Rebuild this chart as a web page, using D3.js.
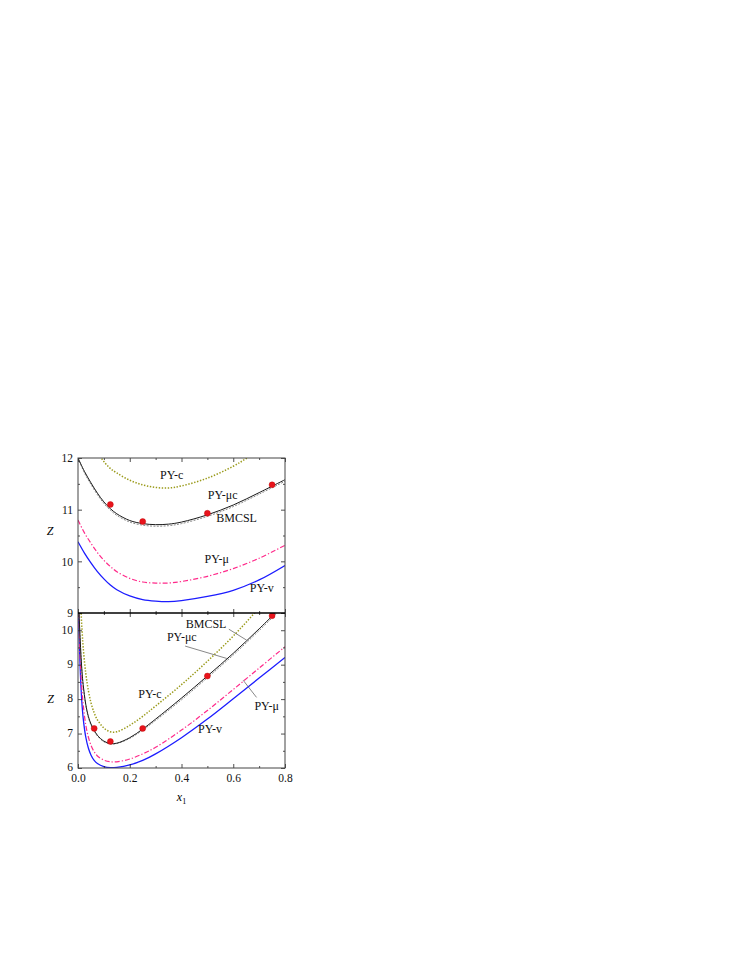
<!DOCTYPE html>
<html>
<head>
<meta charset="utf-8">
<script src="https://cdn.jsdelivr.net/npm/d3@7"></script>
<style>
  html, body { margin: 0; padding: 0; background: #fff; }
  svg { display: block; }
  text { font-family: "Liberation Serif", "Times New Roman", serif; }
</style>
</head>
<body>
<svg id="chart" width="747" height="967"></svg>
<script>
// ---------------- DATA ----------------
// Top panel series: [x1, Z]
const topBMCSL = [[0,12.0],[0.025,11.74],[0.05,11.52],[0.075,11.32],[0.1,11.15],[0.125,11.02],[0.15,10.92],[0.2,10.79],[0.25,10.73],[0.3,10.71],[0.35,10.72],[0.4,10.76],[0.5,10.9],[0.6,11.09],[0.7,11.33],[0.8,11.58]];
const topPYmuc = [[0,12.0],[0.025,11.71],[0.05,11.49],[0.075,11.29],[0.1,11.12],[0.125,10.99],[0.15,10.89],[0.2,10.76],[0.25,10.70],[0.3,10.68],[0.35,10.69],[0.4,10.73],[0.5,10.87],[0.6,11.06],[0.7,11.30],[0.8,11.55]];
const topPYmu  = [[0,10.8],[0.025,10.55],[0.05,10.35],[0.075,10.17],[0.1,10.02],[0.125,9.9],[0.15,9.8],[0.2,9.67],[0.25,9.6],[0.3,9.58],[0.35,9.58],[0.4,9.61],[0.5,9.71],[0.6,9.86],[0.7,10.06],[0.8,10.31]];
const topPYv   = [[0,10.38],[0.025,10.16],[0.05,9.97],[0.075,9.8],[0.1,9.66],[0.125,9.54],[0.15,9.45],[0.2,9.33],[0.25,9.26],[0.3,9.23],[0.35,9.22],[0.4,9.24],[0.5,9.32],[0.6,9.44],[0.7,9.64],[0.8,9.92]];
const topPYc   = [[0.06,12.3],[0.09,12.0],[0.12,11.82],[0.15,11.71],[0.2,11.57],[0.25,11.48],[0.3,11.43],[0.35,11.42],[0.4,11.46],[0.5,11.61],[0.6,11.84],[0.65,11.99],[0.7,12.15]];
const topSim   = [[0.125,11.1],[0.25,10.77],[0.5,10.93],[0.75,11.48]];

// Bottom panel series: [x1, Z]
const botPYv   = [[0.001,11.3],[0.002,10.5],[0.006,9.4],[0.01,8.6],[0.015,7.9],[0.02,7.45],[0.03,6.9],[0.04,6.58],[0.05,6.38],[0.0625,6.22],[0.075,6.13],[0.1,6.04],[0.125,6.01],[0.15,6.02],[0.2,6.09],[0.25,6.22],[0.3,6.41],[0.4,6.88],[0.5,7.42],[0.6,8.01],[0.7,8.61],[0.8,9.21]];
const botPYmu  = [[0.001,11.4],[0.003,10.5],[0.006,9.7],[0.01,8.95],[0.015,8.3],[0.02,7.85],[0.03,7.25],[0.04,6.9],[0.05,6.66],[0.0625,6.47],[0.075,6.35],[0.1,6.23],[0.125,6.18],[0.15,6.18],[0.2,6.26],[0.25,6.41],[0.3,6.6],[0.4,7.1],[0.5,7.67],[0.6,8.28],[0.7,8.9],[0.8,9.52]];
const botBMCSL = [[0.002,11.0],[0.004,10.5],[0.008,9.8],[0.012,9.2],[0.016,8.75],[0.02,8.42],[0.03,7.85],[0.04,7.5],[0.05,7.28],[0.0625,7.1],[0.075,6.95],[0.1,6.78],[0.125,6.71],[0.15,6.72],[0.2,6.88],[0.25,7.13],[0.3,7.42],[0.4,8.03],[0.5,8.67],[0.6,9.33],[0.7,10.04],[0.8,10.78]];
const botPYmuc = [[0.002,10.95],[0.004,10.45],[0.008,9.75],[0.012,9.15],[0.016,8.71],[0.02,8.38],[0.03,7.82],[0.04,7.47],[0.05,7.25],[0.0625,7.07],[0.075,6.93],[0.1,6.76],[0.125,6.7],[0.15,6.71],[0.2,6.86],[0.25,7.1],[0.3,7.38],[0.4,7.98],[0.5,8.62],[0.6,9.28],[0.7,9.99],[0.8,10.73]];
const botPYc   = [[0.008,11.1],[0.012,10.5],[0.016,9.95],[0.02,9.5],[0.03,8.75],[0.04,8.25],[0.05,7.9],[0.0625,7.6],[0.075,7.4],[0.1,7.16],[0.125,7.05],[0.15,7.05],[0.2,7.24],[0.25,7.5],[0.3,7.8],[0.4,8.42],[0.5,9.1],[0.6,9.83],[0.7,10.65],[0.8,11.5]];
const botSim   = [[0.0625,7.15],[0.125,6.77],[0.25,7.15],[0.5,8.67],[0.75,10.42]];

// Ticks
const xMajor = [0, 0.2, 0.4, 0.6, 0.8];
const xMinor = [0.1, 0.3, 0.5, 0.7];
const yTopMajor = [9, 10, 11, 12];
const yTopMinor = [9.5, 10.5, 11.5];
const yBotMajor = [6, 7, 8, 9, 10];
const yBotMinor = [6.5, 7.5, 8.5, 9.5];

// Curve labels (data coords)
const topLabels = [["PY-c",0.362,11.684],["PY-\u03bcc",0.559,11.284],["BMCSL",0.613,10.833],["PY-\u03bc",0.536,10.045],["PY-v",0.710,9.49]];
const botLabels = [["BMCSL",0.495,10.20],["PY-\u03bcc",0.401,9.81],["PY-c",0.278,8.14],["PY-\u03bc",0.729,7.80],["PY-v",0.510,7.15]];
const botLeaders = [[0.583,10.03,0.652,9.71],[0.414,9.54,0.575,9.18],[0.638,8.55,0.69,8.05]];

// ---------------- DRAWING ----------------
const svg = d3.select("#chart");
svg.append("rect").attr("width", 747).attr("height", 967).attr("fill", "#fff");

const L = 78, R = 285, T = 458, M = 613, B = 768;
const x = d3.scaleLinear().domain([0, 0.8]).range([L, R]);
const yT = d3.scaleLinear().domain([9, 12]).range([M, T]);
const yB = d3.scaleLinear().domain([6, 10.5]).range([B, M]);

const defs = svg.append("defs");
defs.append("clipPath").attr("id", "clipT").append("rect").attr("x", L).attr("y", T).attr("width", R - L).attr("height", M - T);
defs.append("clipPath").attr("id", "clipB").append("rect").attr("x", L).attr("y", M).attr("width", R - L).attr("height", B - M);

const styles = {
  BMCSL: {stroke: "#1a1a1a", width: 1.0, dash: null},
  PYmuc: {stroke: "#8a8a8a", width: 1.0, dash: "2,1.4"},
  PYmu:  {stroke: "#ff2a8a", width: 1.2, dash: "5,2,1.3,2"},
  PYv:   {stroke: "#1c1cff", width: 1.3, dash: null},
  PYc:   {stroke: "#9a9a1a", width: 1.5, dash: "1.4,1.6"}
};

function drawPanel(yScale, clipId, series, sims) {
  const g = svg.append("g").attr("clip-path", `url(#${clipId})`);
  const line = d3.line().x(d => x(d[0])).y(d => yScale(d[1])).curve(d3.curveCatmullRom.alpha(0.5));
  series.forEach(([data, st]) => {
    const p = g.append("path").datum(data).attr("d", line)
      .attr("fill", "none").attr("stroke", st.stroke).attr("stroke-width", st.width);
    if (st.dash) p.attr("stroke-dasharray", st.dash);
  });
  g.selectAll("circle.sim").data(sims).enter().append("circle")
    .attr("cx", d => x(d[0])).attr("cy", d => yScale(d[1])).attr("r", 3)
    .attr("fill", "#e8141c").attr("stroke", "#b00").attr("stroke-width", 0.4);
}

drawPanel(yT, "clipT", [
  [topPYc, styles.PYc], [topPYv, styles.PYv], [topPYmu, styles.PYmu],
  [topPYmuc, styles.PYmuc], [topBMCSL, styles.BMCSL]
], topSim);
drawPanel(yB, "clipB", [
  [botPYc, styles.PYc], [botPYv, styles.PYv], [botPYmu, styles.PYmu],
  [botPYmuc, styles.PYmuc], [botBMCSL, styles.BMCSL]
], botSim);

// Leader lines
svg.append("g").selectAll("line").data(botLeaders).enter().append("line")
  .attr("x1", d => x(d[0])).attr("y1", d => yB(d[1]))
  .attr("x2", d => x(d[2])).attr("y2", d => yB(d[3]))
  .attr("stroke", "#555").attr("stroke-width", 0.7);

// Curve labels
function drawLabels(labels, yScale) {
  svg.append("g").selectAll("text").data(labels).enter().append("text")
    .attr("x", d => x(d[1])).attr("y", d => yScale(d[2])).attr("dy", "0.35em")
    .attr("text-anchor", "middle").attr("font-size", 12).attr("fill", "#111")
    .text(d => d[0]);
}
drawLabels(topLabels, yT);
drawLabels(botLabels, yB);

// Axes
function axisG(axis, tx, ty, major, vals, labels) {
  const a = axis.tickValues(vals).tickSize(major ? -4 : -2).tickPadding(5);
  if (!labels) a.tickFormat("");
  const g = svg.append("g").attr("transform", `translate(${tx},${ty})`).call(a);
  g.select(".domain").remove();
  g.selectAll(".tick line").attr("stroke", "#222").attr("stroke-width", 0.8);
  g.selectAll("text").attr("font-family", "Liberation Serif, serif").attr("font-size", 11.5).attr("fill", "#111");
  return g;
}
const fmt = d3.format(".1f");
// x axes
axisG(d3.axisBottom(x).tickFormat(fmt), 0, B, true, xMajor, true).selectAll("text").attr("dy", "0.75em");
axisG(d3.axisBottom(x), 0, B, false, xMinor, false);
axisG(d3.axisTop(x), 0, M, true, xMajor, false);
axisG(d3.axisTop(x), 0, M, false, xMinor, false);
axisG(d3.axisBottom(x), 0, M, true, xMajor, false);
axisG(d3.axisBottom(x), 0, M, false, xMinor, false);
axisG(d3.axisTop(x), 0, T, true, xMajor, false);
axisG(d3.axisTop(x), 0, T, false, xMinor, false);
// y axes
axisG(d3.axisLeft(yT).tickFormat(d3.format("d")), L, 0, true, yTopMajor, true);
axisG(d3.axisLeft(yT), L, 0, false, yTopMinor, false);
axisG(d3.axisRight(yT), R, 0, true, yTopMajor, false);
axisG(d3.axisRight(yT), R, 0, false, yTopMinor, false);
axisG(d3.axisLeft(yB).tickFormat(d3.format("d")), L, 0, true, yBotMajor, true)
  .selectAll("text").attr("dy", "0.25em");
axisG(d3.axisLeft(yB), L, 0, false, yBotMinor, false);
axisG(d3.axisRight(yB), R, 0, true, yBotMajor, false);
axisG(d3.axisRight(yB), R, 0, false, yBotMinor, false);

// Frames
svg.append("rect").attr("x", L).attr("y", T).attr("width", R - L).attr("height", B - T)
  .attr("fill", "none").attr("stroke", "#444").attr("stroke-width", 1);
svg.append("line").attr("x1", L).attr("x2", R).attr("y1", M).attr("y2", M)
  .attr("stroke", "#000").attr("stroke-width", 1.4);

// Axis titles
svg.append("text").attr("x", 50).attr("y", yT(10.6)).attr("dy", "0.35em").attr("text-anchor", "middle")
  .attr("font-size", 12).attr("font-style", "italic").text("Z");
svg.append("text").attr("x", 50.5).attr("y", yB(8.0)).attr("dy", "0.35em").attr("text-anchor", "middle")
  .attr("font-size", 12).attr("font-style", "italic").text("Z");
const xt = svg.append("text").attr("x", x(0.4)).attr("y", 801).attr("text-anchor", "middle").attr("font-size", 12);
xt.append("tspan").attr("font-style", "italic").text("x");
xt.append("tspan").attr("font-size", 8).attr("dy", 3).text("1");
</script>
</body>
</html>
